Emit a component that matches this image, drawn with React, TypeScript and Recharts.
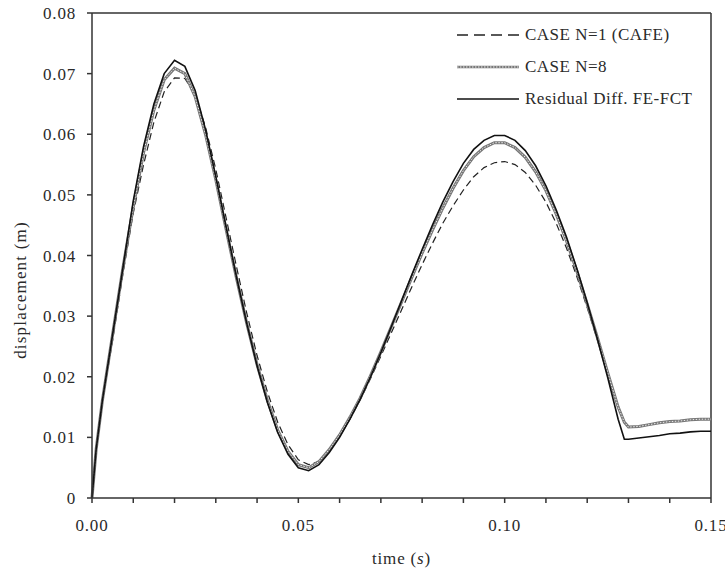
import React from 'react';
import { LineChart, Line, XAxis, YAxis, ReferenceLine, Legend, Label } from 'recharts';

const timeValues = [
  0, 0.001, 0.0025, 0.005, 0.0075, 0.01, 0.0125, 0.015, 0.0175, 0.02,
  0.0225, 0.025, 0.0275, 0.03, 0.0325, 0.035, 0.0375, 0.04, 0.0425, 0.045,
  0.0475, 0.05, 0.0525, 0.055, 0.0575, 0.06, 0.0625, 0.065, 0.0675, 0.07,
  0.0725, 0.075, 0.0775, 0.08, 0.0825, 0.085, 0.0875, 0.09, 0.0925, 0.095,
  0.0975, 0.1, 0.1025, 0.105, 0.1075, 0.11, 0.1125, 0.115, 0.1175, 0.12,
  0.1225, 0.125, 0.1275, 0.129, 0.13, 0.1325, 0.135, 0.1375, 0.14, 0.1425,
  0.145, 0.1475, 0.15,
];

const caseN1Values = [
  0, 0.008, 0.016, 0.026, 0.037, 0.047, 0.055, 0.062, 0.067, 0.0693,
  0.0692, 0.0665, 0.0612, 0.0542, 0.0462, 0.0382, 0.0305, 0.0235, 0.0175, 0.0125,
  0.0088, 0.0063, 0.0055, 0.006, 0.0078, 0.0102, 0.013, 0.0162, 0.0197, 0.0234,
  0.0272, 0.031, 0.0348, 0.0385, 0.042, 0.0453, 0.0482, 0.0508, 0.053, 0.0545,
  0.0553, 0.0555, 0.055, 0.0537, 0.0516, 0.0488, 0.0453, 0.0412, 0.0365, 0.0314,
  0.026, 0.0204, 0.015, 0.0125, 0.0117, 0.0118, 0.0121, 0.0124, 0.0126, 0.0127,
  0.0129, 0.013, 0.013,
];

const caseN8Values = [
  0, 0.008, 0.016, 0.027, 0.038, 0.048, 0.057, 0.064, 0.069, 0.0709,
  0.07, 0.0662, 0.06, 0.0525, 0.0443, 0.0363, 0.0288, 0.022, 0.0161, 0.0112,
  0.0077, 0.0055, 0.005, 0.006, 0.008, 0.0104, 0.0133, 0.0165, 0.0202, 0.0241,
  0.0282, 0.0323, 0.0364, 0.0404, 0.0442, 0.0478, 0.0511, 0.054, 0.0563, 0.0578,
  0.0586, 0.0586, 0.0578, 0.0562, 0.0538, 0.0507, 0.0468, 0.0424, 0.0374, 0.032,
  0.0264, 0.0206, 0.015, 0.0125, 0.0117, 0.0118, 0.0121, 0.0124, 0.0126, 0.0127,
  0.0129, 0.013, 0.013,
];

const residualValues = [
  0, 0.008, 0.016, 0.027, 0.038, 0.049, 0.058, 0.065, 0.07, 0.0722,
  0.0712, 0.0672, 0.0608, 0.053, 0.0447, 0.0365, 0.0288, 0.0218, 0.0158, 0.0108,
  0.0072, 0.005, 0.0045, 0.0055, 0.0075, 0.01, 0.013, 0.0163, 0.02, 0.024,
  0.0282, 0.0325, 0.0368, 0.041, 0.045, 0.0488, 0.0522, 0.0552, 0.0575, 0.059,
  0.0598, 0.0598, 0.059, 0.0573, 0.0548, 0.0515, 0.0475, 0.043, 0.0378, 0.0322,
  0.0262, 0.0198, 0.013, 0.0097, 0.0097, 0.0099, 0.0101, 0.0103, 0.0106, 0.0107,
  0.0109, 0.011, 0.011,
];

const xTicks = [0, 0.01, 0.02, 0.03, 0.04, 0.05, 0.06, 0.07, 0.08, 0.09, 0.1, 0.11, 0.12, 0.13, 0.14, 0.15];
const xLabelled = [0, 0.05, 0.1, 0.15];
const yTicks = [0, 0.01, 0.02, 0.03, 0.04, 0.05, 0.06, 0.07, 0.08];

const seriesNames = ['CASE N=1 (CAFE)', 'CASE N=8', 'Residual Diff. FE-FCT'];

const data = timeValues.map((t, i) => ({
  t,
  n1: caseN1Values[i],
  n8: caseN8Values[i],
  res: residualValues[i],
}));

const FONT = '"Liberation Serif", "Times New Roman", serif';
const AXIS = '#333';
const TXT = '#2a2a2a';
const FS = 17;
const LS = 0.8;

const fmtX = (v: number) => {
  const hit = xLabelled.some((l) => Math.abs(l - v) < 1e-9);
  return hit ? v.toFixed(2) : '';
};
const fmtY = (v: number) => (v === 0 ? '0' : v.toFixed(2));

const LegendContent = () => {
  const rows = [
    { name: seriesNames[0], kind: 'dash' },
    { name: seriesNames[1], kind: 'dot' },
    { name: seriesNames[2], kind: 'solid' },
  ];
  return (
    <div style={{ fontFamily: FONT, fontSize: FS, letterSpacing: 0.5, color: TXT }}>
      {rows.map((r) => (
        <div key={r.name} style={{ display: 'flex', alignItems: 'center', height: 32, whiteSpace: 'nowrap' }}>
          <svg width={62} height={8} style={{ marginRight: 6 }}>
            {r.kind === 'dash' && (
              <line x1={0} y1={4} x2={62} y2={4} stroke="#222" strokeWidth={1.3} strokeDasharray="11 6" />
            )}
            {r.kind === 'dot' && (
              <g>
                <line x1={0} y1={4} x2={62} y2={4} stroke="#777" strokeWidth={2.6} />
                <line x1={0} y1={4} x2={62} y2={4} stroke="#eee" strokeWidth={1} strokeDasharray="1.5 1.5" />
              </g>
            )}
            {r.kind === 'solid' && (
              <line x1={0} y1={4} x2={62} y2={4} stroke="#111" strokeWidth={1.6} />
            )}
          </svg>
          <span>{r.name}</span>
        </div>
      ))}
    </div>
  );
};

export default function App() {
  return (
    <div style={{ position: 'absolute', left: 0, top: 0, width: 725, height: 572, background: '#fff' }}>
      <LineChart width={725} height={572} data={data} margin={{ top: 13, right: 14, bottom: 0, left: 0 }}>
        <XAxis
          dataKey="t"
          type="number"
          domain={[0, 0.15]}
          ticks={xTicks}
          tickFormatter={fmtX}
          interval={0}
          height={74}
          stroke={AXIS}
          strokeWidth={1.5}
          tickSize={5}
          tick={{ fontFamily: FONT, fontSize: FS, letterSpacing: LS, fill: TXT, dy: 14 }}
        >
          <Label
            content={(props: any) => {
              const vb = props.viewBox || {};
              const cx = (vb.x || 0) + (vb.width || 0) / 2;
              return (
                <text x={cx} y={564} textAnchor="middle" fontFamily={FONT} fontSize={FS} letterSpacing={LS} fill={TXT}>
                  time (<tspan fontStyle="italic">s</tspan>)
                </text>
              );
            }}
          />
        </XAxis>
        <YAxis
          type="number"
          domain={[0, 0.08]}
          ticks={yTicks}
          tickFormatter={fmtY}
          width={92}
          stroke={AXIS}
          strokeWidth={1.5}
          tickSize={5}
          tick={{ fontFamily: FONT, fontSize: FS, letterSpacing: LS, fill: TXT, dx: -9 }}
        >
          <Label
            content={() => {
              const cy = 290;
              return (
                <text
                  x={22}
                  y={cy}
                  transform={`rotate(-90, 22, ${cy})`}
                  textAnchor="middle"
                  dominantBaseline="middle"
                  fontFamily={FONT}
                  fontSize={FS}
                  letterSpacing={1.2}
                  fill={TXT}
                >
                  displacement (m)
                </text>
              );
            }}
          />
        </YAxis>
        <ReferenceLine y={0.08} stroke={AXIS} strokeWidth={1.5} />
        <ReferenceLine x={0.15} stroke={AXIS} strokeWidth={1.5} />
        <Legend
          layout="vertical"
          verticalAlign="middle"
          align="center"
          content={<LegendContent />}
          wrapperStyle={{ top: 19, left: 457, width: 255 }}
        />
        <Line
          dataKey="n1"
          name={seriesNames[0]}
          stroke="#222"
          strokeWidth={1.2}
          strokeDasharray="7 4"
          dot={false}
          isAnimationActive={false}
        />
        <Line
          dataKey="n8"
          name={seriesNames[1]}
          stroke="#777"
          strokeWidth={3}
          dot={false}
          isAnimationActive={false}
        />
        <Line
          dataKey="n8"
          name="n8-texture"
          legendType="none"
          stroke="#eee"
          strokeWidth={1}
          strokeDasharray="1.5 1.5"
          dot={false}
          isAnimationActive={false}
        />
        <Line
          dataKey="res"
          name={seriesNames[2]}
          stroke="#111"
          strokeWidth={1.6}
          dot={false}
          isAnimationActive={false}
        />
      </LineChart>
    </div>
  );
}
